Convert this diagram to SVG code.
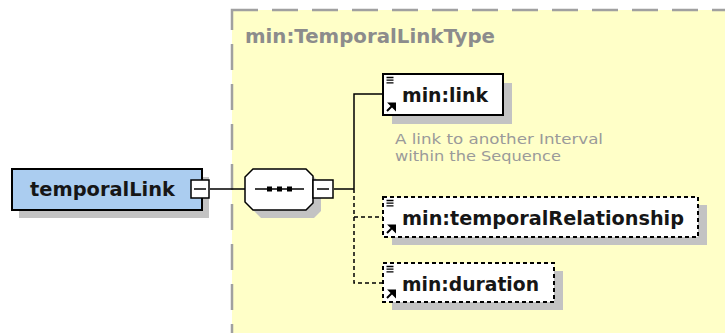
<svg xmlns="http://www.w3.org/2000/svg" width="725" height="333" viewBox="0 0 725 333">
<defs>
<style>
.shadow{fill:#c3c3c3}
.box{fill:#fff;stroke:#000;stroke-width:2}
.dbox{fill:#fff;stroke:#000;stroke-width:2;stroke-dasharray:4 3}
.lbl{font-family:"DejaVu Sans","Liberation Sans",sans-serif;font-weight:bold;font-size:19px;fill:#161616}
.ann{font-family:"DejaVu Sans","Liberation Sans",sans-serif;font-size:13.5px;fill:#9a9a9a}
.con{fill:none;stroke:#000;stroke-width:1.5}
.dcon{fill:none;stroke:#000;stroke-width:1.5;stroke-dasharray:4 3}
.ic{stroke:#000;stroke-width:1.3}
.arr{stroke:#000;stroke-width:2;fill:#000}
</style>
<g id="icons">
<path class="ic" d="M0 0h7M0 2.7h7M0 5.4h7"/>
</g>
<g id="arrow">
<path class="arr" d="M0 8L6 2M2.5 0.5H8V6Z"/>
</g>
</defs>
<rect x="232" y="10" width="500" height="330" fill="#ffffc8" stroke="#a0a0a0" stroke-width="2.5" stroke-dasharray="26 14"/>
<text x="245" y="43" font-family="DejaVu Sans,Liberation Sans,sans-serif" font-weight="bold" font-size="19" fill="#8c8c8c" textLength="250" lengthAdjust="spacingAndGlyphs">min:TemporalLinkType</text>

<g id="connectors">
<path class="con" d="M210 189H245M334 189H354M354 189V94H383"/>
<path class="dcon" d="M354 189V283H383M354 217H383"/>
</g>

<g id="temporalLink">
<rect class="shadow" x="19" y="177" width="190" height="41"/>
<rect x="12" y="169" width="190" height="41" fill="#abcdf0" stroke="#000" stroke-width="2"/>
<text class="lbl" x="30" y="196" textLength="145" lengthAdjust="spacingAndGlyphs">temporalLink</text>
<rect x="191" y="180" width="18" height="18" fill="#fff" stroke="#000" stroke-width="1.5"/>
<path d="M194 189h12" stroke="#000" stroke-width="1.5"/>
</g>

<g id="sequence">
<path class="shadow" d="M261 177H314L321 184V211L314 218H261L253 210V185Z"/>
<path d="M253 169H306L313 176V203L306 210H253L245 202V177Z" fill="#fff" stroke="#000" stroke-width="1.5"/>
<path d="M255 189H304" stroke="#000" stroke-width="1.5"/>
<rect x="267" y="186.5" width="5" height="5"/>
<rect x="277" y="186.5" width="5" height="5"/>
<rect x="287" y="186.5" width="5" height="5"/>
<rect x="313" y="180" width="20" height="18" fill="#fff" stroke="#000" stroke-width="1.5"/>
<path d="M317 189h12" stroke="#000" stroke-width="1.5"/>
</g>

<g id="link">
<rect class="shadow" x="392" y="83" width="120" height="41"/>
<rect class="box" x="383" y="74" width="120" height="41"/>
<use href="#icons" x="386.5" y="77.5"/>
<use href="#arrow" x="387" y="103"/>
<text class="lbl" x="402" y="102" textLength="86" lengthAdjust="spacingAndGlyphs">min:link</text>
<text class="ann" x="395" y="144" textLength="208" lengthAdjust="spacingAndGlyphs">A link to another Interval</text>
<text class="ann" x="395" y="161" textLength="166" lengthAdjust="spacingAndGlyphs">within the Sequence</text>
</g>

<g id="temporalRelationship">
<rect class="shadow" x="392" y="205" width="315" height="40"/>
<rect class="dbox" x="383" y="197" width="315" height="40"/>
<use href="#icons" x="386.5" y="200.5"/>
<use href="#arrow" x="387" y="225"/>
<text class="lbl" x="402" y="225" textLength="282" lengthAdjust="spacingAndGlyphs">min:temporalRelationship</text>
</g>

<g id="duration">
<rect class="shadow" x="392" y="271" width="171" height="39"/>
<rect class="dbox" x="383" y="263" width="171" height="39"/>
<use href="#icons" x="386.5" y="266.5"/>
<use href="#arrow" x="387" y="290"/>
<text class="lbl" x="402" y="291" textLength="137" lengthAdjust="spacingAndGlyphs">min:duration</text>
</g>
</svg>
